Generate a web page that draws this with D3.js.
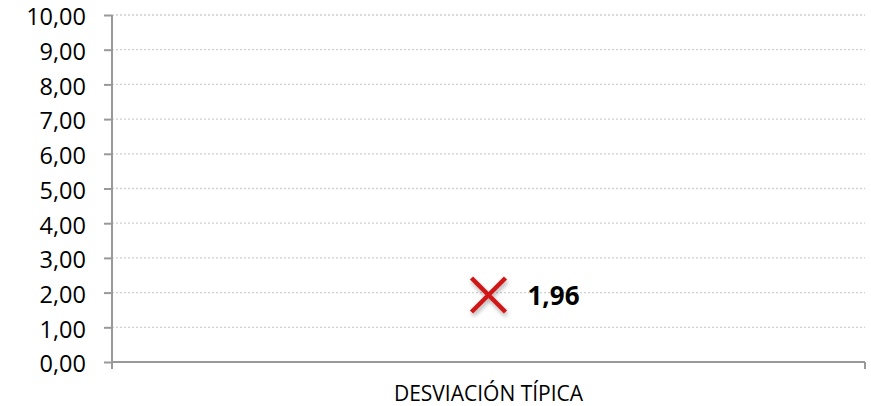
<!DOCTYPE html>
<html>
<head>
<meta charset="utf-8">
<script src="https://cdn.jsdelivr.net/npm/d3@7"></script>
<style>
  body { margin: 0; background: #fff; }
  text { font-family: 'Open Sans', sans-serif; }
</style>
</head>
<body>
<div id="viz"></div>
<script>
const categories = ['DESVIACIÓN TÍPICA'];
const values = [1.96];
const yTicks = [0, 1, 2, 3, 4, 5, 6, 7, 8, 9, 10];

const M = { top: 15, right: 6, bottom: 44, left: 112 };
const W = 871 - M.left - M.right;
const H = 406 - M.top - M.bottom;

const svg = d3.select('#viz')
  .append('svg')
    .attr('width', 871)
    .attr('height', 406)
  .append('g')
    .attr('transform', `translate(${M.left},${M.top})`);

const x = d3.scaleBand().domain(categories).range([0, W]);
const y = d3.scaleLinear().domain([0, 10]).range([H, 0]);
const fmt = d => d3.format('.2f')(d).replace('.', ',');

// dotted gridlines
svg.selectAll('.grid').data(yTicks.slice(1)).join('line')
  .attr('x1', 0).attr('x2', W)
  .attr('y1', d => y(d)).attr('y2', d => y(d))
  .attr('stroke', '#d0d0d0')
  .attr('stroke-width', 1.3)
  .attr('stroke-dasharray', '2,2');

// y axis
const yAxis = svg.append('g').call(
  d3.axisLeft(y).tickValues(yTicks).tickFormat(fmt).tickSize(8).tickPadding(18)
);
yAxis.select('.domain').remove();
yAxis.selectAll('.tick line').attr('stroke', '#999').attr('stroke-width', 2);
yAxis.selectAll('.tick text')
  .attr('fill', '#000')
  .attr('dy', '0.42em')
  .style('font-size', '23.5px');
svg.append('line')
  .attr('x1', 0).attr('x2', 0).attr('y1', 0).attr('y2', H + 7)
  .attr('stroke', '#999').attr('stroke-width', 2);

// x axis
svg.append('line')
  .attr('x1', 0).attr('x2', W).attr('y1', H).attr('y2', H)
  .attr('stroke', '#999').attr('stroke-width', 2);
svg.append('line')
  .attr('x1', W).attr('x2', W).attr('y1', H).attr('y2', H + 7)
  .attr('stroke', '#999').attr('stroke-width', 2);
svg.selectAll('.cat').data(categories).join('text')
  .attr('x', d => x(d) + x.bandwidth() / 2)
  .attr('y', H + 39)
  .attr('text-anchor', 'middle')
  .style('font-size', '21px')
  .attr('fill', '#000')
  .text(d => d);

// shadow filter
const defs = svg.append('defs');
const f = defs.append('filter').attr('id', 'sh').attr('x', '-50%').attr('y', '-50%').attr('width', '200%').attr('height', '200%');
f.append('feDropShadow').attr('dx', 1).attr('dy', 3).attr('stdDeviation', 2).attr('flood-color', '#000').attr('flood-opacity', 0.3);

// markers
const s = 17;
const pts = svg.selectAll('.pt').data(values).join('g')
  .attr('transform', (d, i) => `translate(${x(categories[i]) + x.bandwidth() / 2},${y(d) + 1})`)
  .attr('filter', 'url(#sh)');
pts.append('path')
  .attr('d', `M${-s},${-s}L${s},${s}M${-s},${s}L${s},${-s}`)
  .attr('stroke', '#d01818')
  .attr('stroke-width', 4.5)
  .attr('fill', 'none');

svg.selectAll('.lbl').data(values).join('text')
  .attr('x', (d, i) => x(categories[i]) + x.bandwidth() / 2 + 39)
  .attr('y', d => y(d) + 11)
  .style('font-size', '26px')
  .style('font-weight', 'bold')
  .attr('fill', '#000')
  .text(fmt);
</script>
</body>
</html>
